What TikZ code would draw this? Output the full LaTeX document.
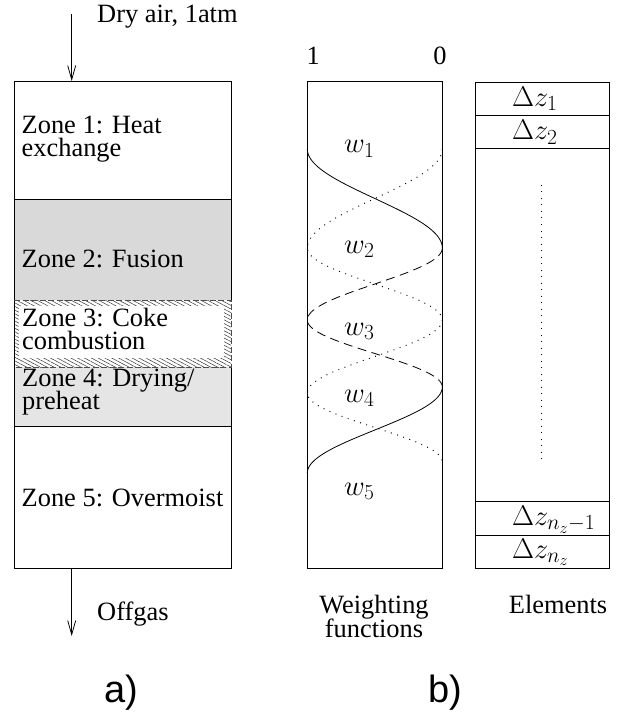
\documentclass[tikz,border=0pt]{standalone}
\usepackage{fix-cm}
\usepackage{fontspec}
\setmainfont{Liberation Serif}
\newfontfamily\labfont{Liberation Sans}
\DeclareMathSizes{28.5}{28.5}{21.5}{16}
\usetikzlibrary{patterns,patterns.meta,arrows.meta}
\begin{document}
\begin{tikzpicture}[x=1pt,y=-1pt,
  txt/.style={font=\fontsize{26.4}{23.5}\selectfont, inner sep=0pt, anchor=base west},
  mtxt/.style={font=\fontsize{28.5}{30}\selectfont, inner sep=0pt, anchor=base west},
  ctxt/.style={font=\fontsize{26.4}{23.5}\selectfont, inner sep=0pt, anchor=base},
  sublab/.style={font=\labfont\fontsize{38}{40}\selectfont, inner sep=0pt, anchor=base},
  frame/.style={line width=0.8pt, black},
  zdash/.style={line width=0.8pt, black!70, dash pattern=on 6pt off 2.5pt},
  flow/.style={line width=0.8pt, -{Straight Barb[length=14pt,width=8pt]}},
  wsolid/.style={line width=0.8pt},
  wdot/.style={line width=1pt, dash pattern=on 0.9pt off 5.6pt},
  wdash/.style={line width=0.8pt, dash pattern=on 9pt off 5.5pt},
  hatch/.style={pattern={Lines[angle=-28,distance=3.2pt,line width=0.5pt]}, pattern color=black!80}
]
\useasboundingbox (0,0) rectangle (621,719);

% ---------- a) column ----------
\fill[black!15] (14,199) rectangle (231,300);
\fill[black!10] (14,367) rectangle (231,426);
\fill[hatch] (14,300) rectangle (231,367);
\fill[white] (19,306) rectangle (224,358);

\coordinate (boxtl) at (14,81);
\coordinate (boxtr) at (231,81);
\coordinate (boxbl) at (14,568);
\coordinate (boxbr) at (231,568);
\coordinate (r3t) at (231,300);
\coordinate (r3b) at (231,367);
\coordinate (l12) at (14,199);  \coordinate (r12) at (231,199);
\coordinate (l23) at (14,300);
\coordinate (l34) at (14,367);
\coordinate (l45) at (14,426);  \coordinate (r45) at (231,426);

\draw[frame] (r3t) -- (boxtr) -- (boxtl) -- (boxbl) -- (boxbr) -- (r3b);
\draw[frame] (l12) -- (r12);
\draw[frame] (l45) -- (r45);
\draw[zdash] (l23) -- (r3t) -- (r3b) -- (l34);

\node[txt] (z1a) at (21.5,134) {Zone 1: Heat};
\node[txt] (z1b) at (21.5,156.5) {exchange};
\node[txt] (z2) at (21.5,267) {Zone 2: Fusion};
\node[txt] (z3a) at (22,326) {Zone 3: Coke};
\node[txt] (z3b) at (22,349) {combustion};
\node[txt] (z4a) at (22,386) {Zone 4: Drying/};
\node[txt] (z4b) at (22,409) {preheat};
\node[txt] (z5) at (21.5,506) {Zone 5: Overmoist};

\coordinate (inS) at (71.7,14);
\coordinate (inE) at (71.7,81);
\coordinate (outS) at (71.7,568);
\coordinate (outE) at (71.7,636);
\draw[flow] (inS) -- (inE);
\draw[flow] (outS) -- (outE);
\node[txt] (dry) at (97,22.7) {Dry air, 1atm};
\node[txt] (off) at (97,620) {Offgas};
\node[sublab] (la) at (121,702) {a)};

% ---------- b) weighting functions ----------
\node[frame, draw, minimum width=135pt, minimum height=486.5pt, inner sep=0pt, anchor=north west] (wbox) at (307.3,81.5) {};
\node[ctxt] (one) at (313.3,65) {1};
\node[ctxt] (zero) at (440,65) {0};

% value 1 at x=307.3, value 0 at x=442.3
\draw[wsolid] plot[domain=0:1, samples=50, variable=\s] ({442.3-67.5*(1+cos(180*\s))}, {149+99*\s});
\draw[wdot] plot[domain=0:1, samples=50, variable=\s] ({442.3-67.5*(1-cos(180*\s))}, {149+99*\s})
  -- plot[domain=0:1, samples=50, variable=\s] ({442.3-67.5*(1+cos(180*\s))}, {248+72*\s});
\draw[wdash] plot[domain=0:1, samples=50, variable=\s] ({442.3-67.5*(1-cos(180*\s))}, {248+72*\s})
  -- plot[domain=0:1, samples=50, variable=\s] ({442.3-67.5*(1+cos(180*\s))}, {320+67*\s});
\draw[wdot] plot[domain=0:1, samples=50, variable=\s] ({442.3-67.5*(1-cos(180*\s))}, {320+73*\s})
  -- plot[domain=0:1, samples=50, variable=\s] ({442.3-67.5*(1+cos(180*\s))}, {393+69*\s});
\draw[wsolid] plot[domain=0:1, samples=50, variable=\s] ({442.3-67.5*(1-cos(180*\s))}, {387+86*\s});

\node[mtxt] (w1) at (344,153) {$w_1$};
\node[mtxt] (w2) at (344,253) {$w_2$};
\node[mtxt] (w3) at (344,335) {$w_3$};
\node[mtxt] (w4) at (344,402) {$w_4$};
\node[mtxt] (w5) at (344,495) {$w_5$};

\node[ctxt] (wf1) at (374,613) {Weighting};
\node[ctxt] (wf2) at (374,637) {functions};
\node[sublab] (lb) at (445,702) {b)};

% ---------- elements ----------
\node[frame, draw, minimum width=134pt, minimum height=486pt, inner sep=0pt, anchor=north west] (ebox) at (475,82) {};
\coordinate (e1l) at (475,115.7); \coordinate (e1r) at (609,115.7);
\coordinate (e2l) at (475,148);   \coordinate (e2r) at (609,148);
\coordinate (e3l) at (475,501.7); \coordinate (e3r) at (609,501.7);
\coordinate (e4l) at (475,535);   \coordinate (e4r) at (609,535);
\draw[frame] (e1l) -- (e1r);
\draw[frame] (e2l) -- (e2r);
\draw[frame] (e3l) -- (e3r);
\draw[frame] (e4l) -- (e4r);
\coordinate (dt) at (541,185);
\coordinate (db) at (541,462);
\draw[wdot] (dt) -- (db);

\node[mtxt] (dz1) at (512,106.7) {$\Delta z_1$};
\node[mtxt] (dz2) at (512,140) {$\Delta z_2$};
\node[mtxt] (dz3) at (512,525.7) {$\Delta z_{n_z-1}$};
\node[mtxt] (dz4) at (512,558) {$\Delta z_{n_z}$};
\node[ctxt] (el) at (558,613) {Elements};
\end{tikzpicture}
\end{document}
